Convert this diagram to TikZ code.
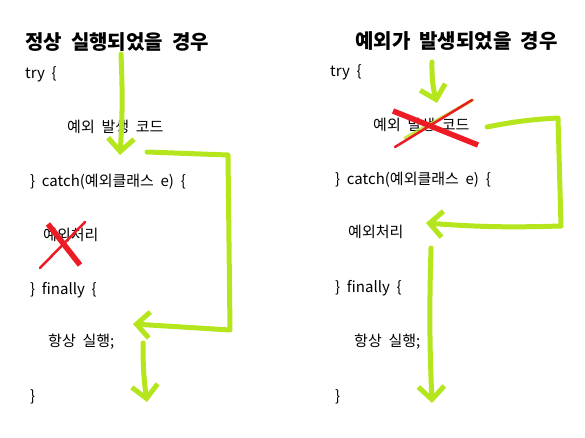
\documentclass[tikz,border=0pt]{standalone}
\usepackage{fontspec}
\setmainfont{Noto Sans CJK KR}[WordSpace=2]
\usepackage{tikz}
\usetikzlibrary{arrows.meta}
\usepackage{xcolor}
\definecolor{lime}{HTML}{B5E61D}
\definecolor{marker}{HTML}{ED1C24}

\begin{document}
\begin{tikzpicture}[x=1pt, y=-1pt,
  title/.style={anchor=west, inner sep=0pt, font=\fontsize{20}{23}\selectfont\bfseries},
  code/.style={anchor=west, inner sep=0pt, font=\fontsize{15}{18}\selectfont},
  flow/.style={draw=lime, line width=5pt, line cap=round, line join=round, -{Straight Barb[length=13pt, width=26pt]}},
  crossthick/.style={draw=marker, line width=5.5pt},
  crossthin/.style={draw=marker, line width=2.5pt, line cap=round}]

  \useasboundingbox (0,0) rectangle (585,438);

  % Nodes (normal run)
  \node[title] (lhead) at (25,42) {정상 실행되었을 경우};
  \node[code] (ltry) at (25,74) {try \{};
  \node[code] (lcode) at (67,127) {예외 발생 코드};
  \node[code] (lcatch) at (30,182) {\} catch(예외클래스 e) \{};
  \node[code] (lhandle) at (43,235) {예외처리};
  \node[code] (lfinally) at (30,290) {\} finally \{};
  \node[code] (lalways) at (48,342) {항상 실행;};
  \node[code] (lend) at (30,397) {\}};

  % Nodes (exception run)
  \node[title] (rhead) at (355,41) {예외가 발생되었을 경우};
  \node[code] (rtry) at (330,72) {try \{};
  \node[code] (rcode) at (373,125) {예외 발생 코드};
  \node[code] (rcatch) at (335,180) {\} catch(예외클래스 e) \{};
  \node[code] (rhandle) at (348,232) {예외처리};
  \node[code] (rfinally) at (335,288) {\} finally \{};
  \node[code] (ralways) at (354,342) {항상 실행;};
  \node[code] (rend) at (335,397) {\}};

  % Stroke points
  \coordinate (lin) at (121,54);
  \coordinate (lhit) at (120,155);
  \coordinate (lskip) at (147,152);
  \coordinate (lcorner1) at (228,155);
  \coordinate (lcorner2) at (230,330);
  \coordinate (lland) at (133,324);
  \coordinate (lgo) at (143,343);
  \coordinate (lout) at (147,402);

  \coordinate (rin) at (432,62);
  \coordinate (rhit) at (437,103);
  \coordinate (rjump) at (487,127);
  \coordinate (rcorner1) at (558,118);
  \coordinate (rcorner2) at (561,226);
  \coordinate (rland) at (426,223);
  \coordinate (rgo) at (431,248);
  \coordinate (rout) at (432,403);

  % Arrows
  \draw[flow] (lin) to[bend left=3] (lhit);
  \draw[flow] (lskip) -- (lcorner1) -- (lcorner2) -- (lland);
  \draw[flow] (lgo) to[bend right=4] (lout);

  \draw[flow] (rin) to[bend right=8] (rhit);
  \draw[draw=lime, line width=3pt, line cap=round, opacity=0.8] (405,138) -- (473,100);
  \draw[flow] (rjump) to[bend left=4] (rcorner1) -- (rcorner2) to[bend left=3] (rland);
  \draw[flow] (rgo) to[bend right=2] (rout);

  % Crosses
  \draw[crossthick] (48,224) -- (80,265);
  \draw[crossthin] (85,222) -- (40,268);
  \draw[crossthick] (393,111) -- (478,145);
  \draw[crossthin] (395,147) -- (472,100);

\end{tikzpicture}
\end{document}
